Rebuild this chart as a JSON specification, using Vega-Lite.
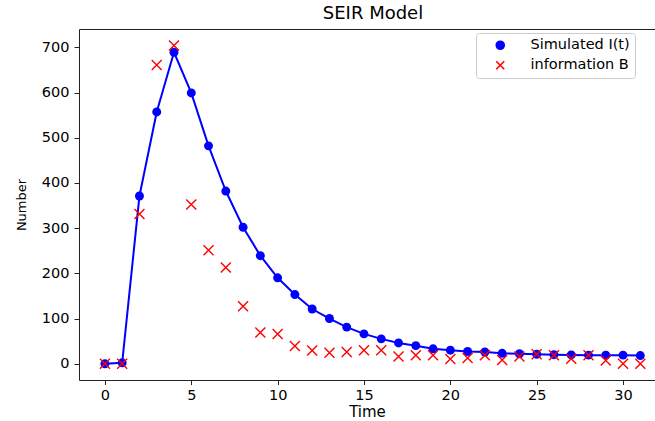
{
  "$schema": "https://vega.github.io/schema/vega-lite/v6.json",
  "width": 576,
  "height": 351,
  "autosize": {"type": "none"},
  "padding": {"left": 79, "top": 29, "right": 0, "bottom": 41},
  "title": {"text": "SEIR Model", "fontSize": 18, "font": "DejaVu Sans", "fontWeight": "normal", "color": "black", "offset": 6, "anchor": "middle", "dx": 6},
  "config": {
    "font": "DejaVu Sans",
    "view": {"stroke": null},
    "axis": {"domainColor": "#222222", "tickColor": "#222222", "labelColor": "black", "titleColor": "black", "labelFont": "DejaVu Sans", "titleFont": "DejaVu Sans", "labelFontSize": 14.5, "titleFontSize": 15, "titleFontWeight": "normal", "grid": false, "tickSize": 4.5, "domainWidth": 1, "tickWidth": 1}
  },
  "data": {"values": [
    {"t": 0, "series": "Simulated I(t)", "value": 0},
    {"t": 1, "series": "Simulated I(t)", "value": 2},
    {"t": 2, "series": "Simulated I(t)", "value": 371},
    {"t": 3, "series": "Simulated I(t)", "value": 557},
    {"t": 4, "series": "Simulated I(t)", "value": 689},
    {"t": 5, "series": "Simulated I(t)", "value": 599},
    {"t": 6, "series": "Simulated I(t)", "value": 482},
    {"t": 7, "series": "Simulated I(t)", "value": 382},
    {"t": 8, "series": "Simulated I(t)", "value": 302},
    {"t": 9, "series": "Simulated I(t)", "value": 239},
    {"t": 10, "series": "Simulated I(t)", "value": 190},
    {"t": 11, "series": "Simulated I(t)", "value": 153},
    {"t": 12, "series": "Simulated I(t)", "value": 121},
    {"t": 13, "series": "Simulated I(t)", "value": 100},
    {"t": 14, "series": "Simulated I(t)", "value": 81},
    {"t": 15, "series": "Simulated I(t)", "value": 66},
    {"t": 16, "series": "Simulated I(t)", "value": 55},
    {"t": 17, "series": "Simulated I(t)", "value": 46},
    {"t": 18, "series": "Simulated I(t)", "value": 40},
    {"t": 19, "series": "Simulated I(t)", "value": 33},
    {"t": 20, "series": "Simulated I(t)", "value": 30},
    {"t": 21, "series": "Simulated I(t)", "value": 27},
    {"t": 22, "series": "Simulated I(t)", "value": 26},
    {"t": 23, "series": "Simulated I(t)", "value": 23},
    {"t": 24, "series": "Simulated I(t)", "value": 22},
    {"t": 25, "series": "Simulated I(t)", "value": 21},
    {"t": 26, "series": "Simulated I(t)", "value": 20},
    {"t": 27, "series": "Simulated I(t)", "value": 19.5},
    {"t": 28, "series": "Simulated I(t)", "value": 19},
    {"t": 29, "series": "Simulated I(t)", "value": 19},
    {"t": 30, "series": "Simulated I(t)", "value": 19},
    {"t": 31, "series": "Simulated I(t)", "value": 18},
    {"t": 0, "series": "information B", "value": 0},
    {"t": 1, "series": "information B", "value": 0},
    {"t": 2, "series": "information B", "value": 331},
    {"t": 3, "series": "information B", "value": 661},
    {"t": 4, "series": "information B", "value": 704},
    {"t": 5, "series": "information B", "value": 352},
    {"t": 6, "series": "information B", "value": 251},
    {"t": 7, "series": "information B", "value": 213},
    {"t": 8, "series": "information B", "value": 127},
    {"t": 9, "series": "information B", "value": 69},
    {"t": 10, "series": "information B", "value": 66},
    {"t": 11, "series": "information B", "value": 39},
    {"t": 12, "series": "information B", "value": 29.5},
    {"t": 13, "series": "information B", "value": 24.5},
    {"t": 14, "series": "information B", "value": 26},
    {"t": 15, "series": "information B", "value": 30},
    {"t": 16, "series": "information B", "value": 30},
    {"t": 17, "series": "information B", "value": 16},
    {"t": 18, "series": "information B", "value": 18.5},
    {"t": 19, "series": "information B", "value": 18.5},
    {"t": 20, "series": "information B", "value": 10.5},
    {"t": 21, "series": "information B", "value": 12.5},
    {"t": 22, "series": "information B", "value": 18.5},
    {"t": 23, "series": "information B", "value": 8},
    {"t": 24, "series": "information B", "value": 16},
    {"t": 25, "series": "information B", "value": 21},
    {"t": 26, "series": "information B", "value": 18.5},
    {"t": 27, "series": "information B", "value": 11},
    {"t": 28, "series": "information B", "value": 18.5},
    {"t": 29, "series": "information B", "value": 7},
    {"t": 30, "series": "information B", "value": 0},
    {"t": 31, "series": "information B", "value": 0}
  ]},
  "encoding": {
    "y": {"field": "value", "type": "quantitative", "scale": {"domain": [-36, 740.5], "nice": false, "zero": false},
      "axis": {"values": [0, 100, 200, 300, 400, 500, 600, 700], "title": "Number", "titleFontSize": 13, "tickSize": 5, "labelPadding": 5, "titlePadding": 13}}
  },
  "layer": [
    {
      "transform": [{"filter": "datum.series === 'Simulated I(t)'"}],
      "mark": {"type": "line", "color": "#0000ff", "strokeWidth": 2},
      "encoding": {
        "x": {"field": "t", "type": "quantitative", "scale": {"domain": [-1.5, 31.85], "nice": false, "zero": false},
          "axis": {"orient": "bottom", "values": [0, 5, 10, 15, 20, 25, 30], "title": "Time", "labelPadding": 4, "titlePadding": 2}}
      }
    },
    {
      "transform": [{"filter": "datum.series === 'Simulated I(t)'"}],
      "mark": {"type": "point", "filled": true, "size": 80, "opacity": 1},
      "encoding": {
        "x": {"field": "t", "type": "quantitative", "axis": {"orient": "top", "labels": false, "ticks": false, "title": null, "domain": true}},
        "color": {"field": "series", "type": "nominal", "sort": null,
          "scale": {"domain": ["Simulated I(t)", "information B"], "range": ["#0000ff", "#ff0000"]},
          "legend": {
            "title": null, "orient": "none", "legendX": 397, "legendY": 4,
            "labelFontSize": 14.5, "labelFont": "DejaVu Sans", "labelColor": "black",
            "symbolSize": 64, "symbolStrokeWidth": 1.6, "symbolOffset": 12, "labelOffset": 23,
            "rowPadding": 4, "padding": 5, "strokeColor": "#cccccc", "fillColor": "white", "cornerRadius": 3
          }},
        "shape": {"field": "series", "type": "nominal", "legend": null,
          "scale": {"domain": ["Simulated I(t)", "information B"], "range": ["circle", "M-1,-1L1,1M-1,1L1,-1"]}}
      }
    },
    {
      "transform": [{"filter": "datum.series !== 'Simulated I(t)'"}],
      "mark": {"type": "point", "filled": false, "size": 100, "strokeWidth": 1.4, "opacity": 1},
      "encoding": {
        "x": {"field": "t", "type": "quantitative", "axis": null},
        "color": {"field": "series", "type": "nominal", "sort": null},
        "shape": {"field": "series", "type": "nominal", "legend": null}
      }
    }
  ],
  "resolve": {"axis": {"x": "independent"}}
}
